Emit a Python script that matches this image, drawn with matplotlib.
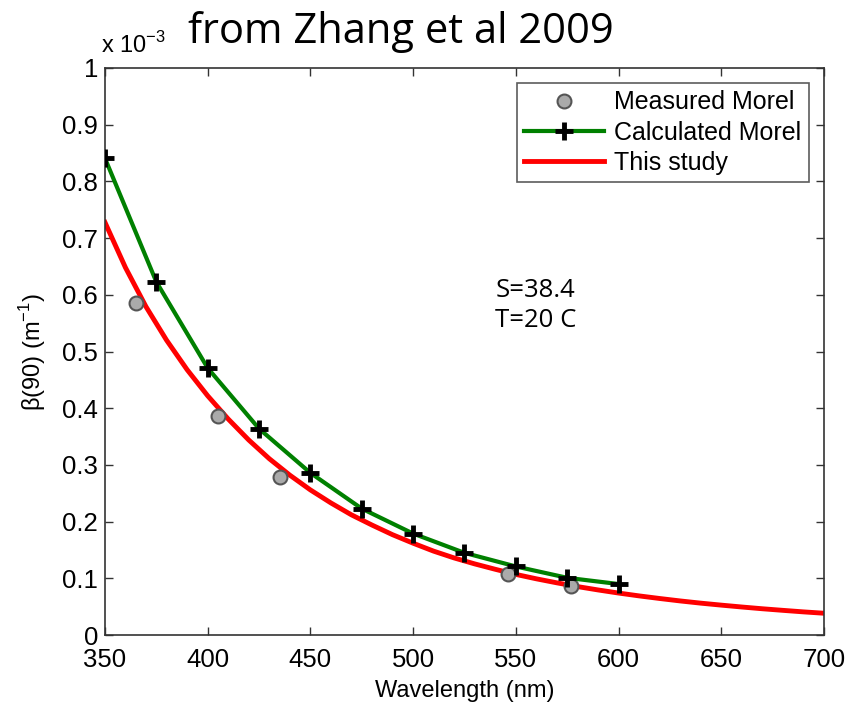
import numpy as np
import matplotlib.pyplot as plt

# Measured Morel points (wavelength nm, beta(90) x 1e-3)
meas_wl = [365, 405, 435, 546, 577]
meas_b = [0.585, 0.386, 0.279, 0.107, 0.086]

# Calculated Morel points
calc_wl = [350, 375, 400, 425, 450, 475, 500, 525, 550, 575, 600]
calc_b = [0.841, 0.623, 0.471, 0.364, 0.286, 0.223, 0.179, 0.145, 0.121, 0.101, 0.090]

# This study curve
study_wl = [350, 360, 370, 380, 390, 400, 410, 420, 430, 440, 450, 460, 470, 480,
            490, 500, 510, 520, 530, 540, 550, 560, 570, 580, 590, 600, 610, 620,
            630, 640, 650, 660, 670, 680, 690, 700]
study_b = [0.728, 0.648, 0.579, 0.520, 0.468, 0.422, 0.381, 0.344, 0.311, 0.282,
           0.256, 0.233, 0.212, 0.194, 0.177, 0.162, 0.148, 0.136, 0.1255, 0.116,
           0.107, 0.0992, 0.0921, 0.0855, 0.0796, 0.0741, 0.0691, 0.0645, 0.0602,
           0.0563, 0.0528, 0.0495, 0.0464, 0.0436, 0.0409, 0.0385]

xticks = [350, 400, 450, 500, 550, 600, 650, 700]
yticks = [0, 0.1, 0.2, 0.3, 0.4, 0.5, 0.6, 0.7, 0.8, 0.9, 1.0]
ytick_labels = ['0', '0.1', '0.2', '0.3', '0.4', '0.5', '0.6', '0.7', '0.8', '0.9', '1']

plt.rcParams['font.family'] = ['Liberation Sans', 'DejaVu Sans']

fig = plt.figure(figsize=(8.53, 7.08), dpi=100)
ax = fig.add_axes([0.123, 0.103, 0.843, 0.801])

ax.plot(meas_wl, meas_b, 'o', color='#aaaaaa', markeredgecolor='#555555',
        markeredgewidth=1.5, markersize=10, label='Measured Morel', zorder=3)
ax.plot(calc_wl, calc_b, '-', color='#008000', linewidth=3, marker='+',
        markersize=13, markeredgewidth=3.5, markeredgecolor='black',
        label='Calculated Morel', zorder=4)
ax.plot(study_wl, study_b, '-', color='#ff0000', linewidth=3.5,
        label='This study', zorder=2)

ax.set_xlim(350, 700)
ax.set_ylim(0, 1)
ax.set_xticks(xticks)
ax.set_yticks(yticks)
ax.set_yticklabels(ytick_labels)
ax.tick_params(direction='in', top=True, right=True, length=6, width=1,
               labelsize=18.5, color='#333333')
ax.tick_params(axis='x', pad=9)
ax.tick_params(axis='y', pad=5)
for s in ax.spines.values():
    s.set_color('#333333')
    s.set_linewidth(1.2)

ax.set_xlabel('Wavelength (nm)', fontsize=17, labelpad=6)
ax.set_ylabel('β(90) (m$^{\\mathregular{-1}}$)', fontsize=17, labelpad=10)

leg = ax.legend(loc='upper right', fontsize=18, frameon=True, fancybox=False,
                borderpad=0.3, labelspacing=0.25, handlelength=3.2,
                handletextpad=0.4, borderaxespad=0.6)
leg.get_frame().set_edgecolor('#333333')
leg.get_frame().set_linewidth(1.2)

# exponent marker above the y axis
fig.text(0.118, 0.918, r'x 10$^{\mathregular{-3}}$', fontsize=17, ha='left', va='bottom')

fig.text(0.47, 0.955, 'from Zhang et al 2009', fontsize=30, family='Open Sans',
         ha='center', va='center')
ax.text(540, 0.63, 'S=38.4\nT=20 C', fontsize=18.5, family='Open Sans',
        ha='left', va='top', linespacing=1.25)

fig.savefig('out.png', dpi=100)
